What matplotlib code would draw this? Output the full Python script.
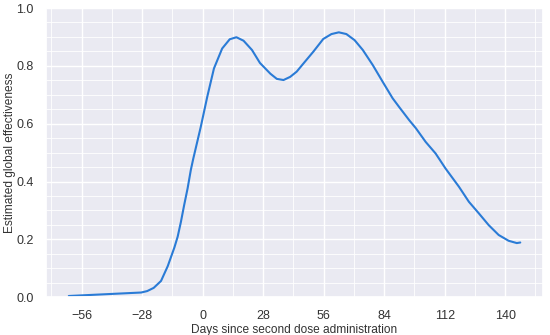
import matplotlib.pyplot as plt
import seaborn as sns
from matplotlib.ticker import MultipleLocator

# values
days = [-62, -28.5, -25.7, -22.7, -19.3, -16.2, -13.1, -11.6, -10.1, -8.6, -7.0,
        -5.5, -4.4, -0.9, 2.1, 5.2, 9.0, 12.5, 15.6, 18.9, 22.8, 26.5, 31.3,
        34.3, 37.4, 40.5, 43.5, 46.6, 51.2, 55.8, 59.6, 63.0, 66.5, 70.3, 74.1,
        78.7, 83.3, 87.9, 91.0, 95.6, 98.7, 103.2, 107.8, 112.4, 118.6, 123.2,
        127.8, 132.4, 137.0, 141.6, 145.4, 147.0]
effectiveness = [0.004, 0.016, 0.021, 0.032, 0.056, 0.107, 0.172, 0.209, 0.26,
                 0.318, 0.376, 0.44, 0.478, 0.589, 0.693, 0.791, 0.860, 0.892,
                 0.899, 0.887, 0.855, 0.81, 0.773, 0.755, 0.751, 0.762, 0.780,
                 0.808, 0.849, 0.893, 0.910, 0.916, 0.910, 0.889, 0.855, 0.803,
                 0.745, 0.688, 0.657, 0.612, 0.584, 0.537, 0.497, 0.445, 0.382,
                 0.330, 0.290, 0.249, 0.215, 0.195, 0.187, 0.189]
xticks = [-56, -28, 0, 28, 56, 84, 112, 140]

sns.set_theme(style="darkgrid")
plt.rcParams['font.family'] = ['Liberation Sans', 'DejaVu Sans']

fig = plt.figure(figsize=(5.5, 3.35), dpi=100)
ax = fig.add_axes([0.084, 0.113, 0.903, 0.863])
ax.plot(days, effectiveness, color="#2a7bd6", linewidth=1.5)

ax.set_ylim(0, 1.0)
ax.set_xticks(xticks)
ax.set_xticklabels([str(t).replace('-', '\u2212') for t in xticks])
ax.xaxis.set_minor_locator(MultipleLocator(14))
ax.yaxis.set_minor_locator(MultipleLocator(0.05))
ax.grid(which='minor', color='white', linewidth=0.6)
ax.grid(which='major', color='white', linewidth=1.0)
ax.tick_params(labelsize=9, colors='#333333', pad=3)
ax.set_xlabel("Days since second dose administration", fontsize=8.6, color='#333333', labelpad=2)
ax.set_ylabel("Estimated global effectiveness", fontsize=8.6, color='#333333')
ax.yaxis.set_label_coords(-0.061, 0.5)

fig.savefig("out.png", dpi=100)
